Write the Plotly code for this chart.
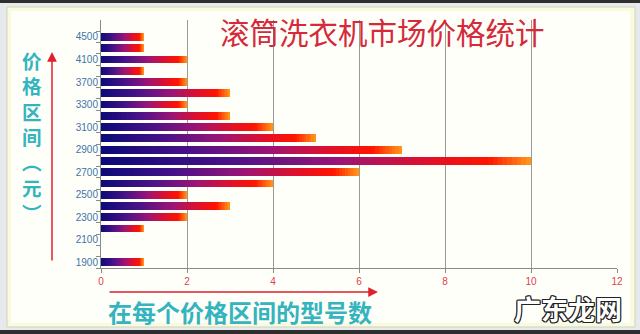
import plotly.graph_objects as go
from plotly.colors import sample_colorscale

# ---- data ----
price_bins = ["1900", "2000", "2100", "2200", "2300", "2400", "2500", "2600",
              "2700", "2800", "2900", "3000", "3100", "3200", "3300", "3500",
              "3700", "3900", "4100", "4300", "4500"]
model_counts = [1, 0, 0, 1, 2, 3, 2, 4, 6, 10, 7, 5, 4, 3, 2, 3, 2, 1, 2, 1, 1]
tick_labels = [c if i % 2 == 0 else "" for i, c in enumerate(price_bins)]

title_text = "滚筒洗衣机市场价格统计"
y_title = "价格区间（元）"
x_title = "在每个价格区间的型号数"
watermark = "广东龙网"

# ---- style ----
W, H = 640, 334
L, R, T, B = 101, 23, 20, 66
PW, PH = W - L - R, H - T - B

def px(xp):
    return (xp - L) / PW

def py(yp):
    return (H - B - yp) / PH

grad = [[0.0, "#0a0a78"], [0.3, "#4a1288"], [0.55, "#9a1478"],
        [0.76, "#e0102a"], [0.9, "#ff1400"], [1.0, "#ff9a18"]]
NSEG = 90
seg_colors = sample_colorscale(grad, [(k + 0.5) / NSEG for k in range(NSEG)])

fig = go.Figure()
for k in range(NSEG):
    fig.add_trace(go.Bar(
        y=price_bins, x=[v / NSEG for v in model_counts], orientation="h",
        marker=dict(color=seg_colors[k], line=dict(width=0)),
        hoverinfo="skip", showlegend=False))

teal = "#34b4bf"
red = "#e0202e"

shapes = [
    dict(type="rect", xref="paper", yref="paper", x0=px(0), x1=px(W), y0=py(3), y1=py(0),
         fillcolor="#2e2e2e", line=dict(width=0), layer="below"),
    dict(type="rect", xref="paper", yref="paper", x0=px(0), x1=px(W), y0=py(H), y1=py(330),
         fillcolor="#2e2e2e", line=dict(width=0), layer="below"),
    dict(type="rect", xref="paper", yref="paper", x0=px(7), x1=px(635), y0=py(327), y1=py(7),
         fillcolor="#fafadc", line=dict(color="#cfd3c0", width=1), layer="below"),
    dict(type="rect", xref="paper", yref="paper", x0=px(11), x1=px(630), y0=py(323), y1=py(11),
         fillcolor="#fffffa", line=dict(width=0), layer="below"),
]

outline = ", ".join(f"{dx}px {dy}px 0 #222" for dx, dy in
                    [(1, 0), (-1, 0), (0, 1), (0, -1), (1, 1), (-1, -1), (1, -1), (-1, 1)])

C = dict(xref="paper", yref="paper", xanchor="center", yanchor="middle")
annotations = [
    dict(text=title_text, x=px(382), y=py(31), showarrow=False,
         font=dict(family="Noto Sans CJK SC", size=29.5, color="#d42a3a"), **C),
    dict(text="<br>".join(["价", "格", "区", "间", "︵", "元", "︶"]),
         x=px(32), y=py(136), showarrow=False,
         font=dict(family="Noto Sans CJK SC", size=19.5, color=teal, weight="bold"), **C),
    dict(text="", x=px(52), y=py(52), ax=0, ay=210,
         showarrow=True, arrowhead=2, arrowsize=1.3, arrowwidth=1.5, arrowcolor=red, **C),
    dict(text="", x=px(378), y=py(292), ax=-270, ay=0,
         showarrow=True, arrowhead=2, arrowsize=1.3, arrowwidth=1.5, arrowcolor=red, **C),
    dict(text=x_title, x=px(240), y=py(311), showarrow=False,
         font=dict(family="Noto Sans CJK SC", size=24, color=teal, weight="bold"), **C),
    dict(text=watermark, x=px(568), y=py(308), showarrow=False,
         font=dict(family="Noto Sans CJK SC", size=27, color="#ffffff", weight="bold",
                   shadow=outline), **C),
]

fig.update_layout(
    width=W, height=H, margin=dict(l=L, r=R, t=T, b=B),
    barmode="stack", bargap=0.3,
    paper_bgcolor="#e6eaec", plot_bgcolor="rgba(0,0,0,0)",
    shapes=shapes, annotations=annotations,
    font=dict(family="Liberation Sans"),
    xaxis=dict(range=[0, 12], dtick=2, tick0=0, showgrid=True, gridcolor="#9a9a9a",
               gridwidth=1, zeroline=False, showline=True, linecolor="#8a8a8a",
               ticks="outside", ticklen=4, tickcolor="#8a8a8a",
               tickfont=dict(size=10, color="#e0404c")),
    yaxis=dict(type="category", categoryorder="array", categoryarray=price_bins,
               range=[-0.5, len(price_bins) + 0.5],
               tickvals=price_bins, ticktext=tick_labels, tickson="boundaries",
               showgrid=False, showline=True, linecolor="#8a8a8a",
               ticks="outside", ticklen=4, tickcolor="#8a8a8a",
               tickfont=dict(size=10, color="#3d74a8")),
)

fig.write_html("out.html")
